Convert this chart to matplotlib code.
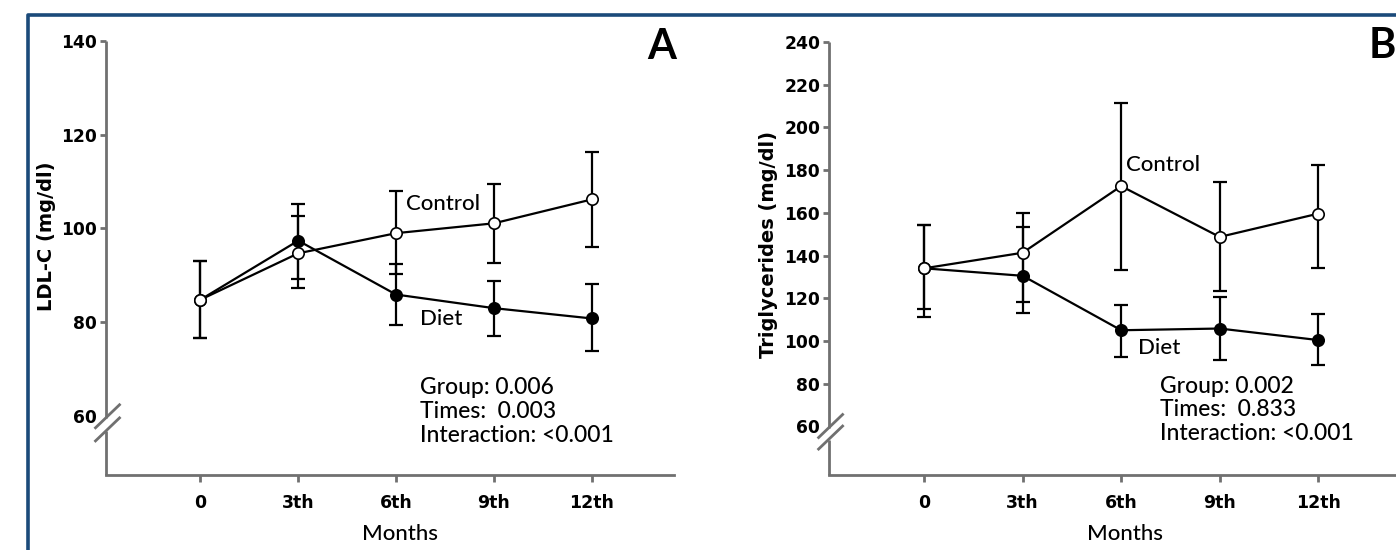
import matplotlib
matplotlib.use('Agg')
import matplotlib.pyplot as plt
import numpy as np
from matplotlib.lines import Line2D
from matplotlib.transforms import IdentityTransform

# ---------------- data ----------------
months = ['0', '3th', '6th', '9th', '12th']

ldl_control = [84.8, 94.7, 99.0, 101.1, 106.2]
ldl_control_hi = [93.0, 102.6, 108.1, 109.5, 116.3]
ldl_control_lo = [76.7, 87.2, 90.2, 92.7, 96.0]
ldl_diet = [84.8, 97.4, 85.9, 83.0, 80.8]
ldl_diet_hi = [93.0, 105.2, 92.4, 88.7, 88.1]
ldl_diet_lo = [76.7, 89.2, 79.3, 77.0, 73.9]

tg_control = [134.0, 141.3, 172.5, 148.7, 159.6]
tg_control_hi = [154.5, 160.0, 211.3, 174.5, 182.4]
tg_control_lo = [114.8, 118.1, 133.1, 123.5, 134.0]
tg_diet = [134.0, 130.5, 105.0, 105.8, 100.4]
tg_diet_hi = [154.5, 153.3, 116.9, 120.6, 112.7]
tg_diet_lo = [111.0, 112.9, 92.7, 91.1, 88.5]

ldl_yticks = [60, 80, 100, 120, 140]
tg_yticks = [60, 80, 100, 120, 140, 160, 180, 200, 220, 240]

stats_a = ['Group: 0.006', 'Times:  0.003', 'Interaction: <0.001']
stats_b = ['Group: 0.002', 'Times:  0.833', 'Interaction: <0.001']

# ---------------- style ----------------
plt.rcParams['font.family'] = ['DejaVu Sans']
AXC = '#707070'
TXT = ['Lato', 'DejaVu Sans']
W, H = 1396, 550

fig = plt.figure(figsize=(W / 100, H / 100), dpi=100)
fig.patch.set_facecolor('white')


def panel(rect, ylim, xlim, yticks, ylabel, ctrl, ctrl_hi, ctrl_lo,
          diet, diet_hi, diet_lo, brk, ylab_pos, xlab_pos, letter, letter_pos,
          ctrl_lab, diet_lab, stats, stats_pos):
    ax = fig.add_axes(rect)
    x = np.arange(len(months))
    ax.set_xlim(*xlim)
    ax.set_ylim(*ylim)
    for s in ('top', 'right'):
        ax.spines[s].set_visible(False)
    ax.spines['bottom'].set_color(AXC)
    ax.spines['bottom'].set_linewidth(2)
    ax.spines['left'].set_visible(False)

    for vals, hi, lo, face, z in ((diet, diet_hi, diet_lo, 'black', 3),
                                  (ctrl, ctrl_hi, ctrl_lo, 'white', 4)):
        v = np.array(vals)
        err = [v - np.array(lo), np.array(hi) - v]
        ax.errorbar(x, v, yerr=err, fmt='none', ecolor='black', elinewidth=1.6,
                    capsize=5, capthick=1.6, zorder=2)
        ax.plot(x, v, '-', color='black', lw=1.6, marker='o', ms=8.2,
                mfc=face, mec='black', mew=1.2, zorder=z)

    ax.set_xticks(x)
    ax.set_xticklabels(months, fontsize=12.5, fontweight='bold')
    ax.set_yticks(yticks)
    ax.set_yticklabels([str(t) for t in yticks], fontsize=12.3, fontweight='bold')
    ax.tick_params(axis='x', direction='out', length=5, width=2, color=AXC, pad=9)
    ax.tick_params(axis='y', direction='out', length=4.5, width=2, color=AXC, pad=1.5)
    ax.yaxis.get_major_ticks()[0].tick1line.set_visible(False)

    ax.set_ylabel(ylabel, fontsize=14, fontweight='bold')
    ax.yaxis.set_label_coords(*ylab_pos)
    ax.set_xlabel('Months', fontsize=16, fontweight='medium', family=TXT)
    ax.xaxis.set_label_coords(*xlab_pos)

    # broken left axis
    y0, y1 = ax.get_ylim()
    tr = ax.get_yaxis_transform()
    kw = dict(color=AXC, lw=2, transform=tr, clip_on=False, solid_capstyle='butt')
    ax.add_line(Line2D([0, 0], [brk[0], y1], **kw))
    ax.add_line(Line2D([0, 0], [y0, brk[1]], **kw))
    for yv in brk:
        cx, cy = ax.transData.transform((xlim[0], yv))
        fig.add_artist(Line2D([cx - 10, cx + 14], [cy - 9.5, cy + 13.5],
                              transform=IdentityTransform(), color=AXC, lw=2))

    ax.text(*letter_pos, letter, transform=ax.transAxes, fontsize=30,
            fontweight='bold', family=TXT, ha='center', va='center')
    ax.text(*ctrl_lab, 'Control', fontsize=16, fontweight='medium', family=TXT,
            ha='left', va='center')
    ax.text(*diet_lab, 'Diet', fontsize=16, fontweight='medium', family=TXT,
            ha='left', va='center')
    for line, yy in zip(stats, stats_pos[1]):
        ax.text(stats_pos[0], yy, line, fontsize=16.5, fontweight='medium',
                family=TXT, ha='left', va='center')
    return ax


panel([105.5 / W, 75 / H, 568.5 / W, 434 / H], (47.4, 140), (-0.97, 4.84),
      ldl_yticks, 'LDL-C (mg/dl)', ldl_control, ldl_control_hi, ldl_control_lo,
      ldl_diet, ldl_diet_hi, ldl_diet_lo, (59.5, 56.7), (-0.087, 0.549),
      (0.518, -0.113), 'A', (0.979, 0.986), (2.10, 105.2), (2.24, 80.7),
      stats_a, (2.24, [66.0, 61.0, 55.9]))

panel([828.6 / W, 75 / H, 567.4 / W, 433 / H], (37.2, 240), (-0.97, 4.79),
      tg_yticks, 'Triglycerides (mg/dl)', tg_control, tg_control_hi, tg_control_lo,
      tg_diet, tg_diet_hi, tg_diet_lo, (59.2, 53.8), (-0.089, 0.533),
      (0.522, -0.113), 'B', (0.975, 0.99), (2.05, 182.4), (2.17, 96.9),
      stats_b, (2.39, [78.7, 68.0, 56.8]))

# outer frame (left and top edges)
fig.add_artist(Line2D([28 / W, 28 / W, 1.0], [0, 535 / H, 535 / H],
                      transform=fig.transFigure, color='#1b4a7a', lw=2.6))

fig.savefig('out.png', dpi=100)
